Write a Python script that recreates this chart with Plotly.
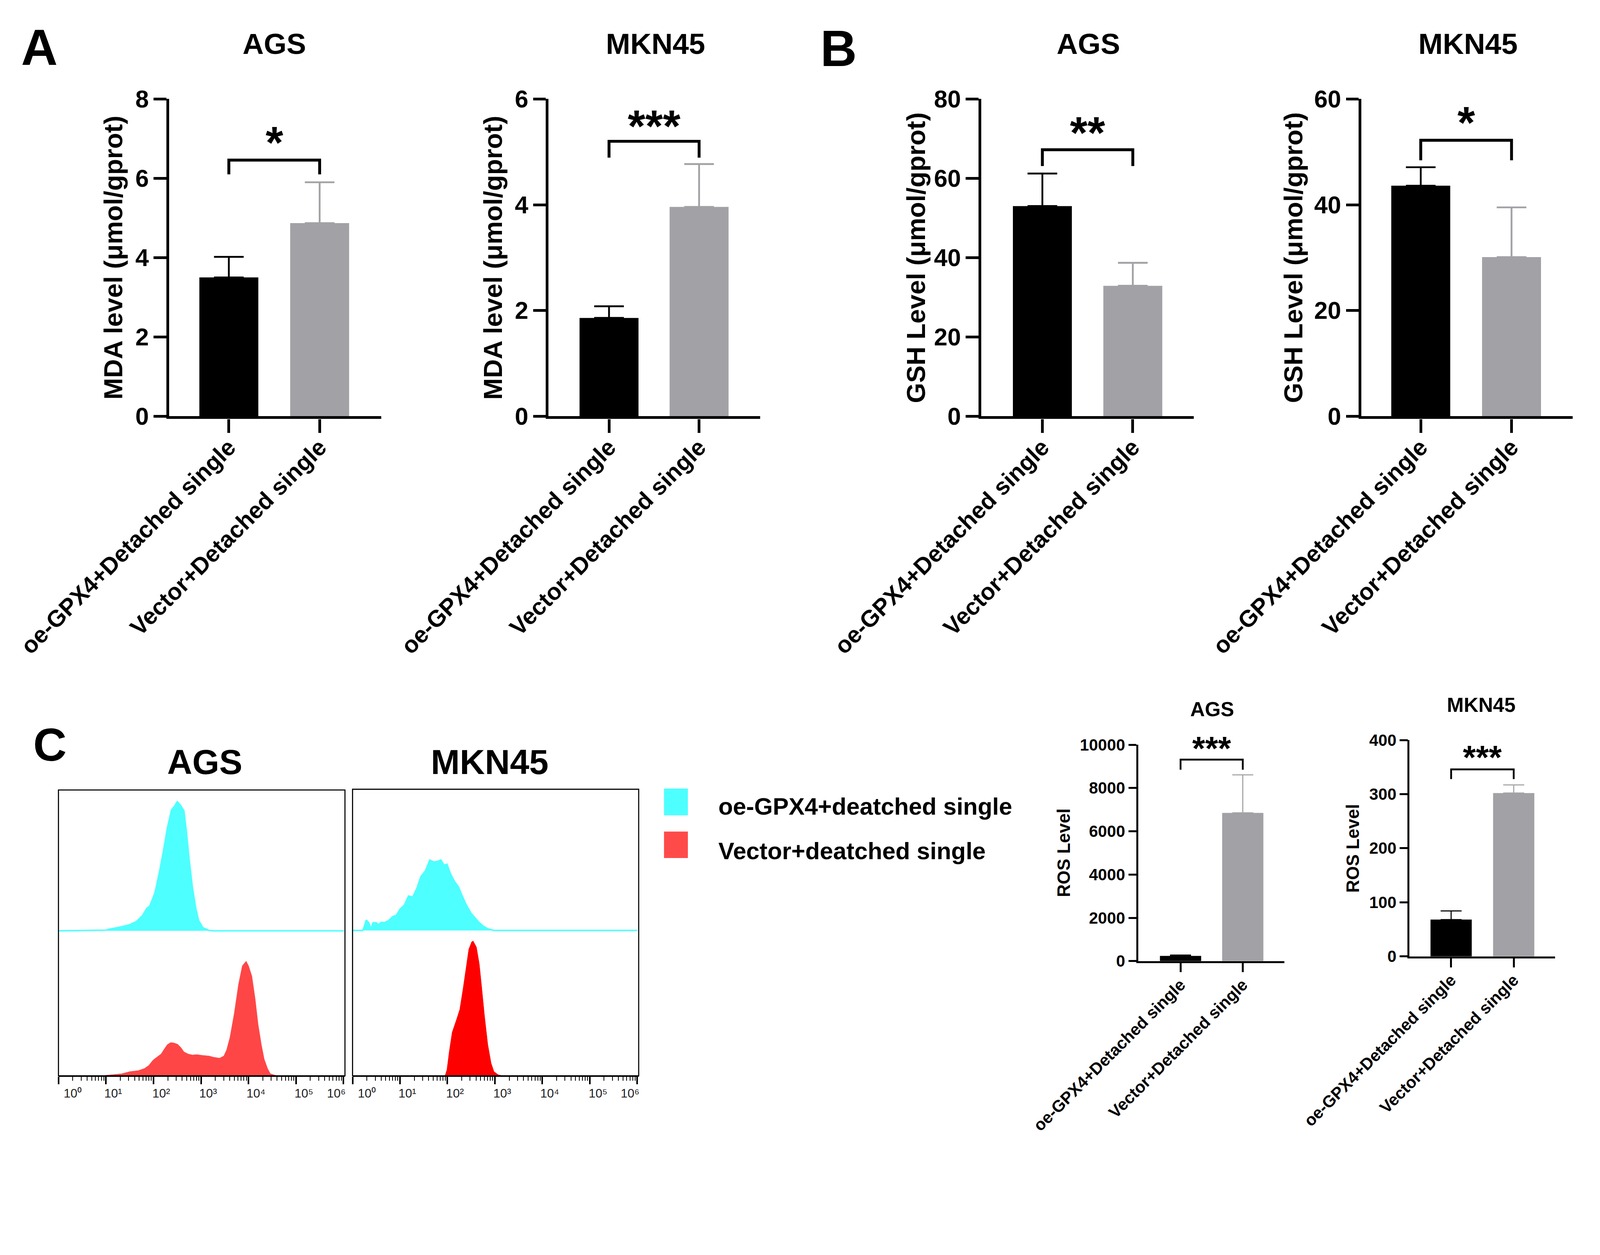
import plotly.graph_objects as go

W0, H0 = 4407, 3212          # target picture size (layout positions are given in these units)
K = 1 / 1.08                 # page renders at 1.08 device px per css px
W, H = round(W0 * K), round(H0 * K)
FONT = "Liberation Sans, Arial, Helvetica, sans-serif"

# ---------------- data ----------------
categories = ["oe-GPX4+Detached single", "Vector+Detached single"]

mda_ags_mean = [3.50, 4.87]
mda_ags_sd = [0.52, 1.03]
mda_mkn_mean = [1.86, 3.96]
mda_mkn_sd = [0.22, 0.81]
gsh_ags_mean = [53.0, 32.9]
gsh_ags_sd = [8.2, 5.8]
gsh_mkn_mean = [43.6, 30.1]
gsh_mkn_sd = [3.5, 9.4]
ros_ags_mean = [240, 6850]
ros_ags_sd = [40, 1760]
ros_mkn_mean = [68, 302]
ros_mkn_sd = [16, 15]

# significance brackets: [leg bottom, bracket top, star level], label
sig_mda_ags = ([6.10, 6.46, 6.99], "*")
sig_mda_mkn = ([4.89, 5.20, 5.55], "***")
sig_gsh_ags = ([63.1, 67.2, 72.4], "**")
sig_gsh_mkn = ([48.4, 52.2, 56.2], "*")
sig_ros_ags = ([8846, 9314, 9930], "***")
sig_ros_mkn = ([327.8, 345.8, 372.0], "***")

# flow cytometry histograms: log10(fluorescence) and relative counts
ags_oe_log = [0.0, 0.5, 1.0, 1.07, 1.29, 1.50, 1.64, 1.77, 1.86, 1.92, 2.03, 2.12, 2.21, 2.29,
              2.38, 2.45, 2.50, 2.56, 2.64, 2.69, 2.75, 2.82, 2.89, 2.95, 3.04, 3.17, 3.26, 4.0, 5.0, 6.0]
ags_oe_cnt = [0.0, 0.002, 0.005, 0.012, 0.026, 0.044, 0.066, 0.109, 0.160, 0.175, 0.269, 0.408, 0.568, 0.728,
              0.859, 0.888, 0.917, 0.895, 0.852, 0.713, 0.509, 0.306, 0.160, 0.073, 0.022, 0.003, 0.0, 0.0, 0.0, 0.0]

ags_vec_log = [0.95, 0.98, 1.33, 1.50, 1.68, 1.81, 1.90, 1.99, 2.07, 2.16, 2.23, 2.29, 2.36, 2.43, 2.51,
               2.58, 2.64, 2.73, 2.82, 2.91, 3.04, 3.17, 3.26, 3.39, 3.48, 3.54, 3.61, 3.70, 3.79, 3.87,
               3.95, 4.00, 4.07, 4.14, 4.20, 4.27, 4.33, 4.40, 4.46, 4.57, 4.66]
ags_vec_cnt = [0.0, 0.003, 0.014, 0.029, 0.036, 0.051, 0.072, 0.109, 0.130, 0.152, 0.188, 0.217, 0.232, 0.229, 0.220,
               0.196, 0.167, 0.152, 0.145, 0.148, 0.142, 0.138, 0.130, 0.123, 0.138, 0.181, 0.268, 0.435, 0.638, 0.768,
               0.800, 0.768, 0.696, 0.536, 0.362, 0.217, 0.116, 0.051, 0.014, 0.003, 0.0]

mkn_oe_log = [0.0, 0.21, 0.23, 0.29, 0.34, 0.39, 0.43, 0.50, 0.54, 0.61, 0.67, 0.76, 0.85, 0.92, 1.00, 1.09,
              1.18, 1.27, 1.36, 1.44, 1.53, 1.63, 1.71, 1.80, 1.86, 1.93, 1.99, 2.06, 2.15, 2.23, 2.32,
              2.41, 2.50, 2.59, 2.67, 2.76, 2.85, 2.98, 6.0]
mkn_oe_cnt = [0.0, 0.0, 0.012, 0.074, 0.055, 0.012, 0.055, 0.055, 0.041, 0.058, 0.055, 0.070, 0.099, 0.106, 0.150, 0.179,
              0.244, 0.237, 0.302, 0.382, 0.419, 0.499, 0.484, 0.491, 0.499, 0.462, 0.469, 0.404, 0.346, 0.310, 0.237,
              0.172, 0.121, 0.084, 0.055, 0.029, 0.012, 0.0, 0.0]

mkn_vec_log = [1.95, 1.99, 2.04, 2.10, 2.19, 2.26, 2.33, 2.39, 2.45, 2.51, 2.54, 2.61, 2.67, 2.72, 2.78,
               2.85, 2.92, 2.98, 3.07, 3.16]
mkn_vec_cnt = [0.0, 0.043, 0.173, 0.303, 0.390, 0.462, 0.607, 0.751, 0.881, 0.932, 0.939, 0.896, 0.780, 0.621, 0.419,
               0.217, 0.087, 0.029, 0.007, 0.0]

decades = [0, 1, 2, 3, 4, 5, 6]
decade_labels = ["10⁰", "10¹", "10²", "10³", "10⁴", "10⁵", "10⁶"]
decade_label_pos = [0.30, 1.15, 2.16, 3.15, 4.16, 5.17, 5.85]

legend_labels = ["oe-GPX4+deatched single", "Vector+deatched single"]

# ---------------- helpers ----------------
fig = go.Figure()
axes = {}
annotations = []
shapes = []


def px(x):
    return x / W0


def py(y):
    return 1 - y / H0


def sz(v):
    return v * K


def names(n):
    if n == 1:
        return "xaxis", "yaxis", "x", "y"
    return f"xaxis{n}", f"yaxis{n}", f"x{n}", f"y{n}"


def note(text, x, y, size, bold=True, angle=0, xanchor="center", yanchor="middle",
         color="black", xref="paper", yref="paper", yshift=0):
    annotations.append(dict(text=text, x=x, y=y, xref=xref, yref=yref, showarrow=False,
                            textangle=angle, xanchor=xanchor, yanchor=yanchor, yshift=sz(yshift),
                            font=dict(family=FONT, size=sz(size), color=color,
                                      weight="bold" if bold else "normal")))


BIG = dict(lw=8, ylen=35, xlen=38, tick=67, cat=65, ytitle=72, title=81, star=125,
           eth=5, ecap=41, brw=8, stand=-24)
SMALL = dict(lw=5, ylen=22, xlen=25, tick=45, cat=46, ytitle=49, title=56, star=92,
             eth=3, ecap=29, brw=5, stand=-10)

BAR_COLORS = ["#000000", "#A2A2A6"]


def bar_panel(n, means, sds, sig, g, s, ymax, dtick, title, ytitle):
    xa, ya, xr, yr = names(n)
    spacing = g["c1"] - g["c0"]
    r0 = -(g["c0"] - g["left"]) / spacing
    r1 = r0 + (g["right"] - g["left"]) / spacing
    bw = g["bar"] / spacing
    for i in range(2):
        fig.add_trace(go.Bar(
            x=[i], y=[means[i]], width=bw,
            marker=dict(color=BAR_COLORS[i], line=dict(width=0)),
            error_y=dict(type="data", array=[sds[i]], arrayminus=[0], symmetric=False,
                         color=BAR_COLORS[i], thickness=sz(s["eth"]), width=sz(s["ecap"])),
            xaxis=xr, yaxis=yr, showlegend=False, hoverinfo="skip"))
    levels, label = sig
    fig.add_trace(go.Scatter(
        x=[0, 0, 1, 1], y=[levels[0], levels[1], levels[1], levels[0]],
        mode="lines", line=dict(color="black", width=sz(s["brw"])),
        xaxis=xr, yaxis=yr, showlegend=False, hoverinfo="skip"))
    note(label, 0.5, levels[2], s["star"], xref=xr, yref=yr, yshift=-0.07 * s["star"])
    axes[xa] = dict(domain=[px(g["left"]), px(g["right"])], range=[r0, r1],
                    anchor=yr, tickmode="array", tickvals=[0, 1], ticktext=categories,
                    tickangle=-45, ticks="outside", ticklen=sz(s["xlen"]), tickwidth=sz(s["lw"]),
                    tickcolor="black", showline=True, linewidth=sz(s["lw"]), linecolor="black",
                    showgrid=False, zeroline=False, automargin=False,
                    ticklabelstandoff=int(round(sz(s["stand"]))),
                    tickfont=dict(family=FONT, size=sz(s["cat"]), color="black", weight="bold"))
    axes[ya] = dict(domain=[py(g["bottom"]), py(g["top"])], range=[0, ymax],
                    anchor=xr, dtick=dtick, tick0=0, tickformat="d", ticks="outside",
                    ticklen=sz(s["ylen"]), tickwidth=sz(s["lw"]), tickcolor="black",
                    showline=True, linewidth=sz(s["lw"]), linecolor="black",
                    showgrid=False, zeroline=False, automargin=False,
                    tickfont=dict(family=FONT, size=sz(s["tick"]), color="black", weight="bold"))
    note(title, px(g["tx"]), py(g["ty"]), s["title"])
    note(ytitle, px(g["yx"]), py((g["top"] + g["bottom"]) / 2),
         s["ytitle"], angle=-90)


# ---------------- panels A & B and ROS ----------------
geo_a1 = dict(left=459, right=1045, top=265, bottom=1142, c0=624, c1=875, bar=163, tx=750, ty=112, yx=305)
geo_a2 = dict(left=1508, right=2093, top=265, bottom=1142, c0=1675, c1=1924, bar=163, tx=1803, ty=112, yx=1355)
geo_b1 = dict(left=2704, right=3291, top=265, bottom=1142, c0=2873, c1=3123, bar=163, tx=3000, ty=112, yx=2524)
geo_b2 = dict(left=3755, right=4339, top=265, bottom=1142, c0=3919, c1=4170, bar=163, tx=4050, ty=112, yx=3567)
geo_c1 = dict(left=3138, right=3542, top=2050, bottom=2648, c0=3255, c1=3427, bar=114, tx=3342, ty=1952, yx=2933)
geo_c2 = dict(left=3888, right=4290, top=2037, bottom=2635, c0=4003, c1=4176, bar=114, tx=4086, ty=1940, yx=3732)

bar_panel(1, mda_ags_mean, mda_ags_sd, sig_mda_ags, geo_a1, BIG, 8, 2, "AGS", "MDA level (μmol/gprot)")
bar_panel(2, mda_mkn_mean, mda_mkn_sd, sig_mda_mkn, geo_a2, BIG, 6, 2, "MKN45", "MDA level (μmol/gprot)")
bar_panel(3, gsh_ags_mean, gsh_ags_sd, sig_gsh_ags, geo_b1, BIG, 80, 20, "AGS", "GSH Level (μmol/gprot)")
bar_panel(4, gsh_mkn_mean, gsh_mkn_sd, sig_gsh_mkn, geo_b2, BIG, 60, 20, "MKN45", "GSH Level (μmol/gprot)")
bar_panel(5, ros_ags_mean, ros_ags_sd, sig_ros_ags, geo_c1, SMALL, 10000, 2000, "AGS", "ROS Level")
bar_panel(6, ros_mkn_mean, ros_mkn_sd, sig_ros_mkn, geo_c2, SMALL, 400, 100, "MKN45", "ROS Level")

# ---------------- panel C histograms ----------------
minor_vals = [m * 10 ** k for k in range(6) for m in range(2, 10)]


def hist_panel(n_up, n_lo, box, up_log, up_cnt, lo_log, lo_cnt, up_color, lo_color, title, tx):
    left, right, top, mid, bottom = box
    xa_u, ya_u, xr_u, yr_u = names(n_up)
    xa_l, ya_l, xr_l, yr_l = names(n_lo)
    fig.add_trace(go.Scatter(x=[10 ** v for v in up_log], y=up_cnt, mode="lines",
                             fill="tozeroy", fillcolor=up_color,
                             line=dict(color=up_color, width=sz(4)),
                             xaxis=xr_u, yaxis=yr_u, showlegend=False, hoverinfo="skip"))
    fig.add_trace(go.Scatter(x=[10 ** v for v in lo_log], y=lo_cnt, mode="lines",
                             fill="tozeroy", fillcolor=lo_color,
                             line=dict(color=lo_color, width=1),
                             xaxis=xr_l, yaxis=yr_l, showlegend=False, hoverinfo="skip"))
    axes[xa_u] = dict(type="log", range=[0, 6.03], domain=[px(left), px(right)], anchor=yr_u,
                      visible=False, showgrid=False, zeroline=False, automargin=False)
    axes[ya_u] = dict(range=[-0.012, 1.0], domain=[py(mid), py(top)], anchor=xr_u,
                      visible=False, showgrid=False, zeroline=False, automargin=False)
    axes[xa_l] = dict(type="log", range=[0, 6.03], domain=[px(left), px(right)], anchor=yr_l,
                      showline=True, linewidth=sz(3), linecolor="black", showgrid=False, zeroline=False,
                      tickmode="array", tickvals=[10 ** d for d in decades], ticks="outside",
                      ticklen=sz(20), tickwidth=sz(4), tickcolor="black", showticklabels=False,
                      automargin=False,
                      minor=dict(tickmode="array", tickvals=minor_vals, ticks="outside",
                                 ticklen=sz(11), tickwidth=sz(2), tickcolor="black", showgrid=False))
    axes[ya_l] = dict(range=[0, 1.0], domain=[py(bottom), py(mid)], anchor=xr_l,
                      visible=False, showgrid=False, zeroline=False, automargin=False)
    shapes.append(dict(type="rect", xref="paper", yref="paper", x0=px(left), x1=px(right),
                       y0=py(bottom), y1=py(top), line=dict(color="black", width=sz(3))))
    for lab, pos in zip(decade_labels, decade_label_pos):
        note(lab, pos, py(3014), 34, bold=False, color="#222222", xref=xr_l)
    note(title, px(tx), py(2098), 96)


hist_panel(7, 8, (153, 945, 2175, 2569, 2965), ags_oe_log, ags_oe_cnt, ags_vec_log, ags_vec_cnt,
           "#4DFFFF", "#FF4646", "AGS", 558)
hist_panel(9, 10, (966, 1757, 2173, 2568, 2965), mkn_oe_log, mkn_oe_cnt, mkn_vec_log, mkn_vec_cnt,
           "#4DFFFF", "#FF0000", "MKN45", 1345)

# legend for histograms
legend_colors = ["#4DFFFF", "#FF4A4A"]
legend_rows = [(2171, 2245, 2221), (2290, 2363, 2344)]
for lab, col, (y0, y1, yc) in zip(legend_labels, legend_colors, legend_rows):
    shapes.append(dict(type="rect", xref="paper", yref="paper", x0=px(1827), x1=px(1893),
                       y0=py(y1), y1=py(y0), fillcolor=col, line=dict(width=0)))
    note(lab, px(1975), py(yc), 66, xanchor="left")

# panel letters
note("A", px(100), py(122), 140)
note("B", px(2310), py(125), 140)
note("C", px(130), py(2050), 128)

fig.update_layout(template="none", width=W, height=H, autosize=False,
                  margin=dict(l=0, r=0, t=0, b=0, pad=0),
                  paper_bgcolor="white", plot_bgcolor="rgba(0,0,0,0)",
                  barmode="overlay", showlegend=False,
                  annotations=annotations, shapes=shapes, **axes)

fig.write_html("out.html")
